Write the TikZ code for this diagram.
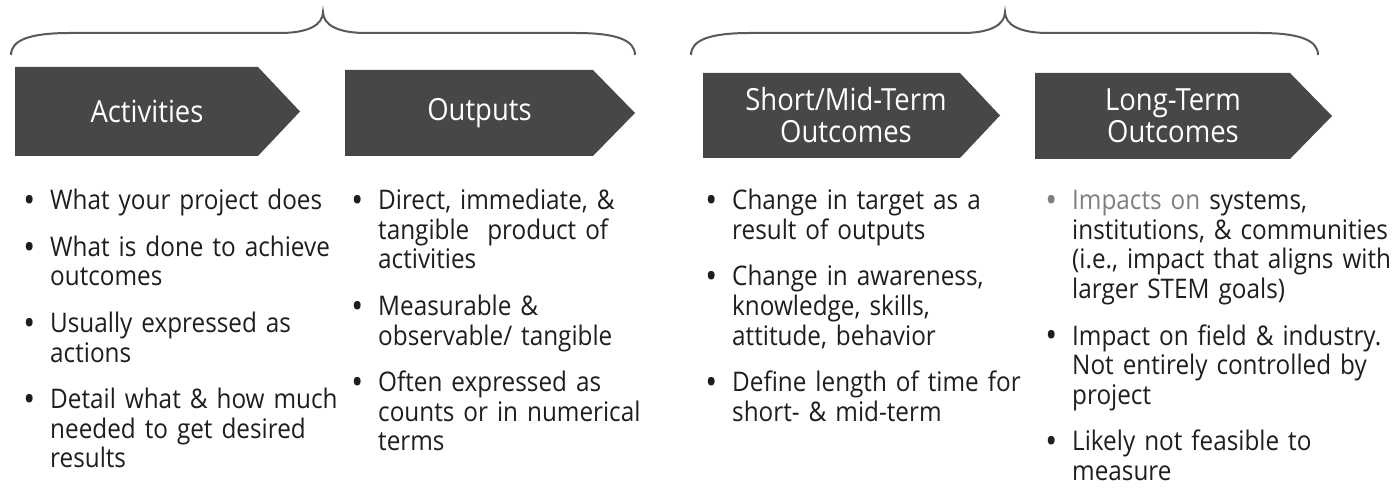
\documentclass[tikz,border=0pt]{standalone}
\usepackage{fontspec}
\usepackage{graphicx}
\setmainfont[FakeStretch=0.9]{Open Sans}
\usetikzlibrary{calc,positioning}
\definecolor{boxgray}{RGB}{71,71,71}
\definecolor{bracegray}{RGB}{89,89,89}
\definecolor{textgray}{RGB}{30,30,30}
\definecolor{impactgray}{RGB}{127,127,127}
\newcommand{\bul}{\makebox[0pt][r]{\raisebox{-2.6pt}{\scalebox{1.3}{\textbullet}}\hspace{15pt}}}

\begin{document}
\begin{tikzpicture}[x=1pt,y=-1pt,
    hdr/.style={text=white,font=\fontsize{30.5}{32}\selectfont,align=center,inner sep=0pt},
    item/.style={text=textgray,font=\fontsize{27}{29.5}\selectfont,text width=330pt,
      align=left,inner sep=0pt,anchor=base west},
    brace/.style={draw=bracegray,line width=2pt}]
    \useasboundingbox (0,0) rectangle (1398,489);
    %% Braces
    \draw[brace] (11,55) .. controls (11,40) and (30,33) .. (70,33) -- (280,33)
      .. controls (308,33) and (323,25) .. (323,12)
      .. controls (323,25) and (338,33) .. (366,33) -- (576,33)
      .. controls (616,33) and (635,40) .. (635,55);
    \draw[brace] (691,55) .. controls (691,40) and (710,33) .. (750,33) -- (962,33)
      .. controls (990,33) and (1005,25) .. (1005,12)
      .. controls (1005,25) and (1020,33) .. (1048,33) -- (1260,33)
      .. controls (1299,33) and (1318,40) .. (1318,55);
    %% Step arrows
    \fill[boxgray] (15,67) -- (258,67) -- (300,111.5) -- (258,156) -- (15,156) -- cycle;
    \fill[boxgray] (345,70) -- (593,70) -- (635,113) -- (593,156) -- (345,156) -- cycle;
    \fill[boxgray] (703,73) -- (960,73) -- (1000,115.5) -- (960,158) -- (703,158) -- cycle;
    \fill[boxgray] (1035,73) -- (1290,73) -- (1332,116) -- (1290,159) -- (1035,159) -- cycle;
    \node[hdr] (act) at (147,111.5) {Activities};
    \node[hdr] (out) at (479.5,113) {Outputs};
    \node[hdr] (smo) at (846,115.5) {Short/Mid-Term\\Outcomes};
    \node[hdr] (lto) at (1173,116) {Long-Term\\Outcomes};
    %% Activities
    \node[item] (act1) at (50,210) {\bul What your project does};
    \node[item] (act2) at (50,256.5) {\bul What is done to achieve\\outcomes};
    \node[item] (act3) at (50,332.5) {\bul Usually expressed as\\actions};
    \node[item] (act4) at (50,408.5) {\bul Detail what \& how much\\needed to get desired\\results};
    %% Outputs
    \node[item] (out1) at (378,210) {\bul Direct, immediate, \&\\tangible\ \ product of\\activities};
    \node[item] (out2) at (378,315.5) {\bul Measurable \&\\observable/ tangible};
    \node[item] (out3) at (378,391.5) {\bul Often expressed as\\counts or in numerical\\terms};
    %% Short/Mid-Term
    \node[item] (smo1) at (732,210) {\bul Change in target as a\\result of outputs};
    \node[item] (smo2) at (732,286) {\bul Change in awareness,\\knowledge, skills,\\attitude, behavior};
    \node[item] (smo3) at (732,391.5) {\bul Define length of time for\\short- \& mid-term};
    %% Long-Term
    \node[item] (lto1) at (1072,210) {\textcolor{impactgray}{\bul Impacts on} systems,\\institutions, \& communities\\(i.e., impact that aligns with\\larger STEM goals)};
    \node[item] (lto2) at (1072,345) {\bul Impact on field \& industry.\\Not entirely controlled by\\project};
    \node[item] (lto3) at (1072,450.5) {\bul Likely not feasible to\\measure};
\end{tikzpicture}
\end{document}
